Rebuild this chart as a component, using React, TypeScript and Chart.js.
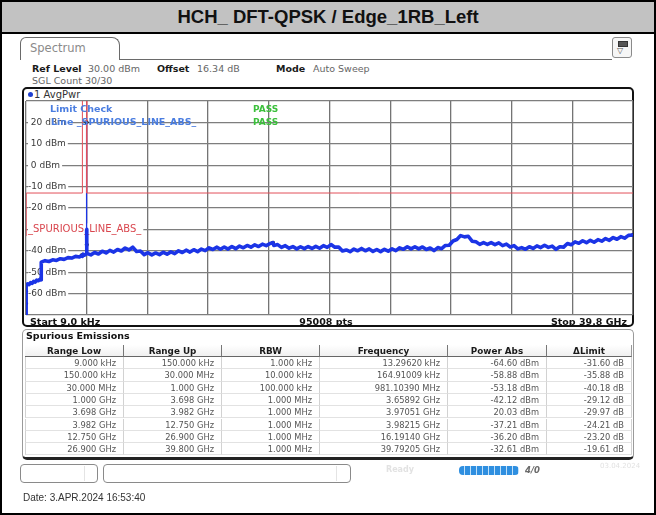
import React, { useEffect, useRef } from 'react';
import { Chart, registerables } from 'chart.js';

Chart.register(...registerables);

// ---------- data ----------
const freqStartGHz = 0.000009;
const freqStopGHz = 39.8;
const yMinDbm = -70;
const yMaxDbm = 30;

const traceFreqGHz = [
  0.000009, 0.0000133, 0.00005, 0.00015, 0.000165, 0.005, 0.03,
  0.03, 0.1, 0.2, 0.3, 0.4, 0.5, 0.6, 0.7, 0.8, 0.9, 0.9811, 1.0,
  1.0, 1.25, 1.5, 1.75, 2.0, 2.25, 2.5, 2.75, 3.0, 3.25, 3.5, 3.659, 3.698, 3.75, 3.85, 3.96, 3.9705, 3.976, 3.9822, 3.99,
  4.25, 4.5, 4.75, 5.0, 5.25, 5.5, 5.75, 6.0, 6.25, 6.5, 6.75, 7.0, 7.25, 7.5, 7.75, 8.0, 8.25, 8.5, 8.75, 9.0,
  9.25, 9.5, 9.75, 10.0, 10.25, 10.5, 10.75, 11.0, 11.25, 11.5, 11.75, 12.0, 12.25, 12.5, 12.75, 13.0, 13.25, 13.5,
  13.75, 14.0, 14.25, 14.5, 14.75, 15.0, 15.25, 15.5, 15.75, 16.0, 16.19, 16.25, 16.5, 16.75, 17.0, 17.25, 17.5,
  17.75, 18.0, 18.25, 18.5, 18.75, 19.0, 19.25, 19.5, 19.75, 20.0, 20.25, 20.5, 20.75, 21.0, 21.25, 21.5, 21.75,
  22.0, 22.25, 22.5, 22.75, 23.0, 23.25, 23.5, 23.75, 24.0, 24.25, 24.5, 24.75, 25.0, 25.25, 25.5, 25.75, 26.0,
  26.25, 26.5, 26.75, 27.0, 27.25, 27.5, 27.75, 28.0, 28.25, 28.5, 28.75, 29.0, 29.25, 29.5, 29.75, 30.0, 30.25,
  30.5, 30.75, 31.0, 31.25, 31.5, 31.75, 32.0, 32.25, 32.5, 32.75, 33.0, 33.25, 33.5, 33.75, 34.0, 34.25, 34.5,
  34.75, 35.0, 35.25, 35.5, 35.75, 36.0, 36.25, 36.5, 36.75, 37.0, 37.25, 37.5, 37.75, 38.0, 38.25, 38.5, 38.75,
  39.0, 39.25, 39.5, 39.79, 39.8,
];
const traceLevelDbm = [
  -73, -64.6, -70, -71, -58.88, -63, -61,
  -56.0, -55.4, -55.8, -54.9, -55.2, -54.3, -54.6, -53.7, -54.0, -53.4, -53.18, -53.6,
  -45.3, -44.6, -45.0, -44.2, -44.5, -43.7, -44.0, -43.2, -43.4, -42.6, -42.9, -42.12, -42.6, -41.6, -42.0, -41.4, 20.03, -30, -37.21, -41.2,
  -41.9, -40.8, -41.5, -40.2, -41.0, -39.8, -40.6, -39.4, -40.1, -38.7, -39.6, -38.3, -40.3, -40.1, -41.8, -40.9, -41.9, -41.0, -41.8, -40.7,
  -41.6, -40.5, -41.3, -40.0, -40.8, -39.7, -40.6, -39.5, -40.4, -39.2, -39.9, -38.6, -39.4, -38.3, -39.3, -38.2, -39.2, -38.0,
  -39.0, -37.8, -38.6, -37.5, -38.3, -37.2, -38.0, -36.9, -37.6, -36.6, -36.2, -37.5, -37.1, -38.4, -37.6, -38.8, -38.0,
  -39.1, -38.1, -39.0, -38.0, -38.9, -37.9, -38.8, -37.6, -38.4, -37.1, -38.3, -38.2, -40.1, -39.6, -40.4, -39.2, -40.0,
  -38.9, -40.0, -39.1, -40.3, -39.4, -40.4, -39.3, -40.2, -39.1, -39.9, -38.6, -39.3, -38.1, -39.1, -38.1, -39.1, -38.2,
  -39.4, -38.7, -39.9, -38.5, -39.0, -37.5, -37.4, -35.4, -34.7, -32.9, -33.5, -33.2, -35.5, -35.8, -37.0, -36.2, -37.0,
  -36.2, -37.1, -36.3, -37.6, -36.9, -38.2, -37.6, -39.1, -38.5, -39.3, -38.1, -38.9, -37.7, -38.5, -37.4, -38.4, -37.8,
  -39.3, -38.1, -38.3, -36.6, -37.2, -35.8, -36.5, -35.3, -36.2, -35.1, -36.0, -34.8, -35.5, -34.3, -35.1, -33.8, -34.6,
  -33.4, -34.1, -32.8, -32.61, -33.0,
];

const limitFreqGHz = [0.000009, 0.00015, 0.00015, 0.03, 0.03, 3.698, 3.698, 3.982, 3.982, 39.8];
const limitLevelDbm = [-33, -33, -23, -23, -13, -13, 50, 50, -13, -13];

const rangeLow = ['9.000 kHz', '150.000 kHz', '30.000 MHz', '1.000 GHz', '3.698 GHz', '3.982 GHz', '12.750 GHz', '26.900 GHz'];
const rangeUp = ['150.000 kHz', '30.000 MHz', '1.000 GHz', '3.698 GHz', '3.982 GHz', '12.750 GHz', '26.900 GHz', '39.800 GHz'];
const rbwText = ['1.000 kHz', '10.000 kHz', '100.000 kHz', '1.000 MHz', '1.000 MHz', '1.000 MHz', '1.000 MHz', '1.000 MHz'];
const peakFreqText = ['13.29620 kHz', '164.91009 kHz', '981.10390 MHz', '3.65892 GHz', '3.97051 GHz', '3.98215 GHz', '16.19140 GHz', '39.79205 GHz'];
const peakFreqGHz = [0.0000132962, 0.00016491009, 0.9811039, 3.65892, 3.97051, 3.98215, 16.1914, 39.79205];
const powerAbsDbm = [-64.6, -58.88, -53.18, -42.12, 20.03, -37.21, -36.2, -32.61];
const deltaLimitDb = [-31.6, -35.88, -40.18, -29.12, -29.97, -24.21, -23.2, -19.61];
const tableHeaders = ['Range Low', 'Range Up', 'RBW', 'Frequency', 'Power Abs', '\u0394Limit'];

// ---------- layout ----------
const UI = '"DejaVu Sans", Verdana, sans-serif';
const colX = [25, 124, 222, 320, 448, 547, 632];
const rowTop0 = 357;
const rowH = 12.3;

const abs = (s: React.CSSProperties): React.CSSProperties => ({ position: 'absolute', ...s });

export default function App() {
  const ref = useRef<HTMLCanvasElement>(null);

  useEffect(() => {
    document.body.style.margin = '0';
    const canvas = ref.current!;
    const chart = new Chart(canvas, {
      type: 'line',
      data: {
        datasets: [
          {
            label: 'limit',
            data: limitFreqGHz.map((f, i) => ({ x: f, y: limitLevelDbm[i] })),
            borderColor: '#e2505a',
            borderWidth: 1,
            pointRadius: 0,
            tension: 0,
          },
          {
            label: 'trace',
            data: traceFreqGHz.map((f, i) => ({ x: f, y: traceLevelDbm[i] })),
            borderColor: '#1b34e6',
            borderWidth: 3.6,
            pointRadius: 0,
            tension: 0,
            borderJoinStyle: 'round',
            segment: {
              borderWidth: (ctx: any) =>
                Math.abs(ctx.p1.parsed.y - ctx.p0.parsed.y) > 15 && Math.abs(ctx.p1.parsed.x - ctx.p0.parsed.x) < 0.1 && ctx.p0.parsed.x > 1
                  ? 1.3
                  : 3.6,
            },
          } as any,
          {
            label: 'peaks',
            type: 'scatter',
            data: peakFreqGHz.map((f, i) => ({ x: f, y: powerAbsDbm[i] })),
            backgroundColor: '#000',
            borderWidth: 0,
            pointRadius: 2,
            showLine: false,
          } as any,
        ],
      },
      options: {
        animation: false,
        responsive: false,
        maintainAspectRatio: false,
        devicePixelRatio: 1,
        layout: { padding: { left: 26, top: 101, right: 23, bottom: 200 } },
        plugins: { legend: { display: false }, tooltip: { enabled: false } },
        scales: {
          x: {
            type: 'linear',
            min: freqStartGHz,
            max: freqStopGHz,
            ticks: { display: false },
            grid: { color: '#747474', lineWidth: 1.3, drawTicks: false },
            border: { display: false },
            afterBuildTicks: (s: any) => {
              const n = 10;
              const arr = [];
              for (let i = 0; i <= n; i++) arr.push({ value: freqStartGHz + ((freqStopGHz - freqStartGHz) * i) / n });
              s.ticks = arr;
            },
          } as any,
          y: {
            type: 'linear',
            min: yMinDbm,
            max: yMaxDbm,
            afterFit: (s: any) => {
              s.width = 0;
            },
            ticks: {
              stepSize: 10,
              mirror: true,
              padding: 2,
              z: 0,
              font: (ctx: any) => ({ family: UI, size: ctx.tick && ctx.tick.value === -30 ? 10 : 9 }),
              color: (ctx: any) => (ctx.tick && ctx.tick.value === -30 ? '#d9464e' : '#3a3a3a'),
              callback: (v: any) => {
                if (v === yMaxDbm || v === yMinDbm) return '';
                if (v === -30) return '_SPURIOUS_LINE_ABS_';
                return (v >= 0 ? ' ' : '') + v + ' dBm';
              },
              showLabelBackdrop: (ctx: any) => !(ctx.tick && (ctx.tick.value === yMaxDbm || ctx.tick.value === yMinDbm)),
              backdropColor: '#ffffff',
              backdropPadding: { left: 0, right: 2, top: 0, bottom: 0 },
            },
            grid: { color: '#7e7e7e', lineWidth: 1.3, drawTicks: false },
            border: { display: false },
          } as any,
        },
      },
    });
    return () => chart.destroy();
  }, []);

  const txt = (s: React.CSSProperties, t: React.ReactNode) => (
    <div style={abs({ whiteSpace: 'nowrap', fontFamily: UI, ...s })}>{t}</div>
  );

  return (
    <div
      style={{
        position: 'fixed',
        left: 0,
        top: 0,
        width: 656,
        height: 515,
        background: '#fff',
        overflow: 'hidden',
        fontFamily: UI,
      }}
    >
      {/* outer frame and title */}
      <div style={abs({ left: 0, top: 0, width: 656, height: 33, background: '#c2c2c2' })} />
      <div style={abs({ left: 0, top: 32, width: 656, height: 2, background: '#000' })} />
      <div style={abs({ left: 0, top: 0, width: 656, height: 515, boxSizing: 'border-box', border: '2px solid #000' })} />
      <div
        style={abs({
          left: 0,
          top: 2,
          width: 656,
          height: 30,
          lineHeight: '30px',
          textAlign: 'center',
          fontFamily: '"Liberation Sans", Arial, sans-serif',
          fontWeight: 'bold',
          fontSize: 18.5,
          color: '#111',
        })}
      >
        HCH_ DFT-QPSK / Edge_1RB_Left
      </div>

      {/* spectrum tab */}
      <div
        style={abs({
          left: 20,
          top: 37,
          width: 100,
          height: 23,
          border: '1px solid #6a6a6a',
          borderBottom: 'none',
          borderRadius: '6px 8px 0 0',
          boxSizing: 'border-box',
        })}
      />
      <div style={abs({ left: 119, top: 59, width: 493, height: 1, background: '#6a6a6a' })} />
      {txt({ left: 30, top: 42, fontSize: 11.5, lineHeight: '13px', color: '#8a8a8a' }, 'Spectrum')}
      <div
        style={abs({
          left: 612,
          top: 37,
          width: 20,
          height: 21,
          border: '1px solid #8a8a8a',
          borderRadius: 3,
          boxSizing: 'border-box',
          background: '#f6f6f6',
        })}
      >
        <div style={abs({ left: 5, top: 3, width: 8, height: 4, background: '#555', border: '1px solid #333' })} />
        <div style={abs({ left: 4, top: 8, fontSize: 8, lineHeight: '9px', color: '#555' })}>{'\u25BD'}</div>
      </div>

      {/* header info */}
      {txt({ left: 32, top: 63, fontSize: 9.5, lineHeight: '11px', fontWeight: 'bold', color: '#1a1a1a' }, 'Ref Level')}
      {txt({ left: 88, top: 63, fontSize: 9.5, lineHeight: '11px', color: '#666' }, '30.00 dBm')}
      {txt({ left: 157, top: 63, fontSize: 9.5, lineHeight: '11px', fontWeight: 'bold', color: '#1a1a1a' }, 'Offset')}
      {txt({ left: 197, top: 63, fontSize: 9.5, lineHeight: '11px', color: '#666' }, '16.34 dB')}
      {txt({ left: 276, top: 63, fontSize: 9.5, lineHeight: '11px', fontWeight: 'bold', color: '#1a1a1a' }, 'Mode')}
      {txt({ left: 313, top: 63, fontSize: 9.5, lineHeight: '11px', color: '#666' }, 'Auto Sweep')}
      {txt({ left: 32, top: 75, fontSize: 9.5, lineHeight: '11px', color: '#666' }, 'SGL Count 30/30')}

      {/* plot frame */}
      <div
        style={abs({
          left: 22,
          top: 87,
          width: 612,
          height: 240,
          border: '2px solid #111',
          borderRadius: 5,
          boxSizing: 'border-box',
        })}
      />
      <div style={abs({ left: 28, top: 92, width: 5, height: 5, borderRadius: 3, background: '#1f3fd0' })} />
      {txt({ left: 34, top: 89, fontSize: 10, lineHeight: '12px', color: '#333' }, '1 AvgPwr')}

      <canvas ref={ref} width={656} height={515} style={abs({ left: 0, top: 0, width: 656, height: 515 })} />

      {/* limit check overlay */}
      {txt({ left: 50, top: 103, fontSize: 9.5, lineHeight: '12px', fontWeight: 'bold', color: '#4a7de0' }, 'Limit Check')}
      {txt({ left: 253, top: 103, fontSize: 9, lineHeight: '12px', fontWeight: 'bold', color: '#3cc03c' }, 'PASS')}
      {txt({ left: 51, top: 116, fontSize: 9.5, lineHeight: '12px', fontWeight: 'bold', color: '#4a7de0' }, 'Line _SPURIOUS_LINE_ABS_')}
      {txt({ left: 253, top: 116, fontSize: 9, lineHeight: '12px', fontWeight: 'bold', color: '#3cc03c' }, 'PASS')}

      {/* bottom axis row */}
      {txt({ left: 30, top: 315.5, fontSize: 9.5, lineHeight: '12px', fontWeight: 'bold', color: '#111' }, 'Start 9.0 kHz')}
      {txt({ left: 276, width: 100, textAlign: 'center', top: 315.5, fontSize: 9.5, lineHeight: '12px', fontWeight: 'bold', color: '#111' }, '95008 pts')}
      {txt({ left: 527, width: 100, textAlign: 'right', top: 315.5, fontSize: 9.5, lineHeight: '12px', fontWeight: 'bold', color: '#111' }, 'Stop 39.8 GHz')}

      {/* table */}
      <div
        style={abs({
          left: 22,
          top: 329,
          width: 612,
          height: 131,
          border: '1px solid #9a9a9a',
          borderBottom: '3px solid #222',
          borderRadius: 5,
          boxSizing: 'border-box',
        })}
      />
      {txt({ left: 26, top: 330, fontSize: 9.5, lineHeight: '12px', fontWeight: 'bold', color: '#111' }, 'Spurious Emissions')}
      {tableHeaders.map((h, c) => (
        <div
          key={'h' + c}
          style={abs({
            left: colX[c],
            top: 344.5,
            width: colX[c + 1] - colX[c],
            height: 12.5,
            lineHeight: '12px',
            textAlign: 'center',
            fontFamily: UI,
            fontWeight: 'bold',
            fontSize: 8.8,
            color: '#1a1a1a',
            boxSizing: 'border-box',
            borderRight: c < 5 ? '1px solid #777' : '1px solid #999',
            borderBottom: '1px solid #666',
            background: 'linear-gradient(#ffffff, #f0f0f0)',
          })}
        >
          {h}
        </div>
      ))}
      {rangeLow.map((_, r) => {
        const cells = [
          rangeLow[r],
          rangeUp[r],
          rbwText[r],
          peakFreqText[r],
          powerAbsDbm[r].toFixed(2) + ' dBm',
          deltaLimitDb[r].toFixed(2) + ' dB',
        ];
        return cells.map((t, c) => (
          <div
            key={'c' + r + '_' + c}
            style={abs({
              left: colX[c],
              top: rowTop0 + r * rowH,
              width: colX[c + 1] - colX[c],
              height: rowH,
              lineHeight: rowH + 'px',
              textAlign: 'right',
              paddingRight: 7,
              boxSizing: 'border-box',
              fontFamily: UI,
              fontSize: 8.3,
              color: '#555',
              borderRight: '1px solid #d2d2d2',
              borderBottom: '1px solid #e2e2e2',
              borderLeft: c === 0 ? '1px solid #d2d2d2' : undefined,
            })}
          >
            {t}
          </div>
        ));
      })}

      {/* status bar */}
      <div style={abs({ left: 20, top: 464, width: 78, height: 19, border: '1px solid #8a8a8a', borderRadius: 4, boxSizing: 'border-box' })} />
      <div style={abs({ left: 84, top: 466, width: 1, height: 15, background: '#e4e4e4' })} />
      <div style={abs({ left: 103, top: 464, width: 248, height: 19, border: '1px solid #8a8a8a', borderRadius: 4, boxSizing: 'border-box' })} />
      <div style={abs({ left: 336, top: 466, width: 1, height: 15, background: '#e4e4e4' })} />
      {txt({ left: 386, top: 465, fontSize: 8, lineHeight: '10px', color: '#e2e2e2', fontWeight: 'bold' }, 'Ready')}
      <div
        style={abs({
          left: 459,
          top: 466,
          width: 60,
          height: 9,
          borderRadius: 4,
          background: 'repeating-linear-gradient(90deg, #2f8fe0 0px, #2f8fe0 5px, #bfe0fa 5px, #bfe0fa 6px)',
        })}
      />
      {txt({ left: 525, top: 465, fontSize: 8.5, lineHeight: '10px', color: '#6a6a6a', fontWeight: 'bold', fontStyle: 'italic' }, '4/0')}
      {txt({ left: 600, top: 462, fontSize: 7, lineHeight: '9px', color: '#e2e2e2' }, '03.04.2024')}

      {/* date */}
      {txt(
        { left: 23, top: 492, fontSize: 10, lineHeight: '12px', color: '#333', fontFamily: '"Liberation Sans", Arial, sans-serif' },
        'Date: 3.APR.2024  16:53:40'
      )}
    </div>
  );
}
